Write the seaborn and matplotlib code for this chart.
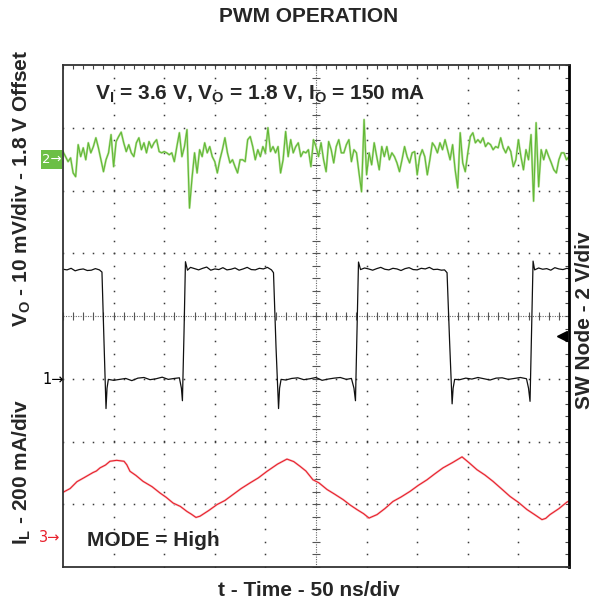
import numpy as np
import seaborn as sns
import matplotlib.pyplot as plt
from matplotlib.patches import Rectangle
from matplotlib.ticker import MultipleLocator

# --- scope settings ---
vo_ref_div = 2.49      # channel 2 marker (Vo ripple, 10 mV/div)
sw_ref_div = -1.0      # channel 1 marker (SW node, 2 V/div)
il_ref_div = -3.5      # channel 3 marker (IL, 200 mA/div)
trig_level_div = -0.32

# --- Vo ripple, mV, sampled every 2.5 ns from 0 to 500 ns ---
vo_mv = [1.3, 0.5, -0.3, 0.3, -2.1, -2.7, 2.4, 0.5, 1.9, 0.0,
         2.7, 1.1, 2.1, 3.5, 1.9, 0.0, -1.9, 0.0, 1.1, 4.0,
         -1.1, 2.9, 3.7, 4.4, 2.7, 1.3, 2.4, 1.1, 0.5, 2.7,
         3.5, 1.6, 2.7, 1.1, 2.9, 1.9, 2.7, 3.2, 1.3, 1.1,
         1.3, 1.1, 0.8, 1.1, -0.3, 2.1, 4.3, 0.5, 2.1, 4.8,
         -7.7, -2.9, 1.1, -2.1, 1.6, 0.5, 2.7, 1.1, 2.1, 0.5,
         -0.3, -2.1, 0.0, 1.6, 3.5, 1.1, -0.5, 0.0, -1.1, -2.1,
         0.0, 0.0, -0.3, 3.2, 3.7, 2.1, 0.0, 1.6, 0.5, 2.1,
         1.1, 5.1, 1.3, 2.1, 1.1, 2.1, -2.1, 0.0, 4.5, 0.5,
         3.2, 1.1, 2.1, 2.7, 0.5, 1.3, 1.1, 1.6, -1.1, 3.2,
         2.1, 0.5, 2.7, 0.0, -1.9, 2.9, 1.6, -0.5, 2.1, 3.2,
         1.1, 1.1, 2.4, 3.2, -0.3, 1.6, 1.1, -2.1, -5.1, 6.4,
         -2.4, 1.1, -0.8, 2.7, 0.5, -1.6, 2.1, 0.5, 2.1, 0.0,
         1.1, 0.5, -0.5, -1.9, 0.0, 2.1, 0.5, -0.5, 1.1, 1.3,
         -2.4, 0.5, 1.6, 0.5, -2.4, 0.0, 2.7, 2.1, 1.1, 2.7,
         1.6, 3.2, 1.6, 0.0, 2.4, -1.6, -4.5, 4.3, -0.5, -1.9,
         1.1, 3.7, 4.3, 2.7, 3.2, 2.7, 3.5, 2.1, 2.7, 2.4,
         1.6, 2.1, 1.9, 3.5, 1.9, 1.1, 2.1, 1.3, -1.1, 0.0,
         3.2, 0.5, -1.6, 1.6, 0.0, 4.0, -6.6, 5.9, -4.3, 1.6,
         0.0, 1.6, 0.5, -0.5, -1.6, -2.1, 0.0, 1.1, 1.1, 0.0,
         0.5]
vo_t = np.arange(len(vo_mv)) * 2.5

# --- SW node breakpoints (ns, V) ---
sw_t = [0, 4, 8, 12, 16, 20, 24, 28, 32, 36, 38.5,
        40.5, 42.5, 43.5, 44.8,
        50, 56, 62, 68, 74, 80, 86, 92, 98, 104, 110, 115, 117, 118,
        119.6, 121, 123, 126, 130, 134, 138, 142, 146, 150, 154, 158, 162, 166,
        170, 174, 178, 182, 186, 190, 194, 198, 202, 206, 208,
        210.5, 213, 214, 215.5,
        220, 226, 232, 238, 244, 250, 256, 262, 268, 274, 280, 285, 287.5, 289,
        290.5, 292, 294, 298, 302, 306, 310, 314, 318, 322, 326, 330, 334, 338,
        342, 346, 350, 354, 358, 362, 366, 370, 374, 377, 379.5,
        382, 384.5, 385.5, 387,
        392, 398, 404, 410, 416, 422, 428, 434, 440, 446, 452, 458, 460, 461.5,
        463, 464.5, 466, 470, 474, 478, 482, 486, 490, 494, 498, 500]
sw_v = [3.49, 3.47, 3.52, 3.44, 3.48, 3.50, 3.45, 3.46, 3.51, 3.47, 3.40,
        1.2, -0.95, -0.30, -0.02,
        -0.05, -0.02, 0.01, -0.06, 0.02, 0.04, -0.03, 0.00, 0.05, -0.02, 0.01, 0.03, -0.30, -0.70,
        1.5, 3.73, 3.46, 3.55, 3.51, 3.47, 3.52, 3.56, 3.46, 3.50, 3.48, 3.54, 3.47, 3.49,
        3.53, 3.46, 3.50, 3.55, 3.48, 3.47, 3.52, 3.50, 3.55, 3.47, 3.38,
        1.0, -0.95, -0.30, -0.02,
        -0.04, 0.01, 0.03, -0.03, 0.00, 0.04, -0.05, -0.01, 0.02, 0.04, -0.02, 0.01, -0.30, -0.70,
        1.5, 3.72, 3.48, 3.53, 3.50, 3.46, 3.51, 3.55, 3.49, 3.47, 3.52, 3.50, 3.45, 3.51,
        3.54, 3.48, 3.47, 3.52, 3.50, 3.55, 3.48, 3.49, 3.46, 3.47, 3.38,
        1.2, -0.80, -0.30, -0.02,
        -0.03, 0.02, -0.01, 0.04, 0.00, -0.04, 0.02, 0.03, -0.02, 0.01, 0.04, 0.00, -0.30, -0.72,
        1.5, 3.75, 3.47, 3.53, 3.49, 3.51, 3.46, 3.54, 3.50, 3.48, 3.52, 3.50]

# --- inductor current breakpoints (ns, mA) ---
il_t = [0, 7, 13.8, 21, 29.6, 33, 36.6, 42, 46.4, 53, 60.3, 63, 66.2, 72, 79.1,
        88, 95.8, 102, 108.7, 116, 122.5, 127, 131.4, 135.4, 144, 152.2, 160,
        168, 176, 184.8, 193, 201.6, 212, 221.3, 228, 234.2, 240, 247, 253,
        260.9, 268, 276.7, 284, 290.5, 297, 302.4, 306, 310.3, 318, 326.1, 334,
        342.9, 351, 359.7, 367, 375.5, 385, 394.3, 401, 409.1, 417, 424.9, 433,
        441.7, 450, 458.5, 466, 473.3, 477, 481.2, 490, 498, 500]
il_ma = [138, 150, 172, 185, 201, 206, 216, 225, 237, 240, 237, 226, 205, 192, 173,
         156, 136, 122, 104, 93, 77, 68, 58, 62, 80, 99, 112,
         131, 150, 168, 184, 205, 228, 244, 236, 221, 206, 178, 168,
         147, 133, 115, 97, 83, 70, 56, 61, 67, 86, 109, 123,
         141, 160, 178, 196, 216, 233, 251, 233, 210, 193, 173, 150,
         125, 106, 83, 67, 51, 55, 67, 86, 107, 110]

sns.set_style("white")
plt.rcParams['font.family'] = ['Liberation Sans', 'DejaVu Sans']
plt.rcParams['mathtext.fontset'] = 'custom'
plt.rcParams['mathtext.rm'] = 'Liberation Sans:bold'
plt.rcParams['mathtext.it'] = 'Liberation Sans:bold'
plt.rcParams['mathtext.bf'] = 'Liberation Sans:bold'

W, H = 595, 606
fig = plt.figure(figsize=(W / 100, H / 100), dpi=100)
ax = fig.add_axes([63 / W, 1 - 567 / H, 506 / W, 502 / H])
ax.set_xlim(0, 500)
ax.set_ylim(-4, 4)

# scope graticule: dotted grid
grid_c = '#3a3a3a'
ydots = np.arange(-4, 4.001, 0.2)
xdots = np.arange(0, 500.1, 10)
for xv in range(50, 500, 50):
    if xv != 250:
        ax.plot([xv] * len(ydots), ydots, ls='', marker='s', ms=1.1, mew=0, color=grid_c)
for yv in range(-3, 4):
    if yv != 0:
        ax.plot(xdots, [yv] * len(xdots), ls='', marker='s', ms=1.1, mew=0, color=grid_c)
ax.axhline(0, color='#666666', lw=0.8, ls=(0, (1, 1.2)))
ax.axvline(250, color='#666666', lw=0.8, ls=(0, (1, 1.2)))
ax.plot(xdots, [0] * len(xdots), ls='', marker='|', ms=6, mew=0.8, color='#555555')
ax.plot([250] * len(ydots), ydots, ls='', marker='_', ms=6, mew=0.8, color='#555555')

ax.xaxis.set_major_locator(MultipleLocator(50))
ax.xaxis.set_minor_locator(MultipleLocator(10))
ax.yaxis.set_major_locator(MultipleLocator(1))
ax.yaxis.set_minor_locator(MultipleLocator(0.2))
ax.tick_params(which='both', direction='in', length=3, width=0.8, color='#444444',
               top=True, right=True, labelbottom=False, labelleft=False)
for side, sp in ax.spines.items():
    sp.set_color('#333333')
    sp.set_linewidth(1.3)
ax.spines['right'].set_color('black')
ax.spines['right'].set_linewidth(2)

# traces
vo_div = vo_ref_div + np.array(vo_mv) / 10
sns.lineplot(x=vo_t, y=vo_div, ax=ax, color='#b9e29e', lw=1.6, estimator=None, sort=False)
sns.lineplot(x=vo_t, y=vo_div, ax=ax, color='#62b836', lw=0.8, estimator=None, sort=False)
sns.lineplot(x=sw_t, y=sw_ref_div + np.array(sw_v) / 2, ax=ax, color='#111111',
             lw=0.9, estimator=None, sort=False)
il_div = il_ref_div + np.array(il_ma) / 200
sns.lineplot(x=il_t, y=il_div, ax=ax, color='#f8c4c6', lw=1.6, estimator=None, sort=False)
sns.lineplot(x=il_t, y=il_div, ax=ax, color='#e8202c', lw=0.8, estimator=None, sort=False)
ax.set_xlabel('')
ax.set_ylabel('')

# trigger level arrow on the right edge
ax.plot([493], [trig_level_div], marker='<', ms=7, color='black', clip_on=False)

# channel markers
def fx(px):
    return px / W

def fy(py):
    return 1 - py / H

fig.patches.append(Rectangle((fx(41), fy(169)), 21 / W, 19 / H, transform=fig.transFigure,
                             facecolor='#6cbf45', edgecolor='none'))
mk = dict(family='DejaVu Sans', ha='center', va='center')
fig.text(fx(51.5), fy(159.5), '2\u2192', color='white', fontsize=9.5, **mk)
fig.text(fx(53), fy(379), '1\u2192', color='black', fontsize=10.5, **mk)
fig.text(fx(50), fy(537), '3\u2192', color='#e8202c', fontsize=10.5, **mk)

# texts
bold = dict(fontsize=15, fontweight='bold')
fig.text(fx(309), fy(16), 'PWM OPERATION', ha='center', va='center', **bold)
fig.text(fx(95), fy(100), r'V$_\mathrm{I}$ = 3.6 V, V$_\mathrm{O}$ = 1.8 V, I$_\mathrm{O}$ = 150 mA',
         ha='left', va='baseline', **bold)
fig.text(fx(87), fy(546), 'MODE = High', ha='left', va='baseline', **bold)
fig.text(fx(309), fy(590), 't - Time - 50 ns/div', ha='center', va='center', **bold)
fig.text(fx(22), fy(188), r'V$_\mathrm{O}$ - 10 mV/div - 1.8 V Offset', rotation=90,
         ha='center', va='center', **bold)
fig.text(fx(22), fy(472), r'I$_\mathrm{L}$ - 200 mA/div', rotation=90,
         ha='center', va='center', **bold)
fig.text(fx(585), fy(320), 'SW Node - 2 V/div', rotation=90, ha='center', va='center', **bold)

fig.savefig('out.png', dpi=100)
